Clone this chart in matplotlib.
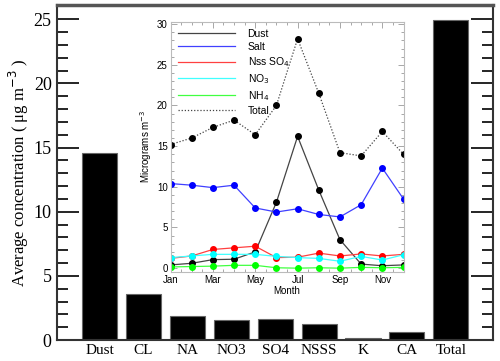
import matplotlib
matplotlib.use("Agg")
import matplotlib.pyplot as plt
from matplotlib.ticker import MultipleLocator
from matplotlib.lines import Line2D

categories = ["Dust", "CL", "NA", "NO3", "SO4", "NSSS", "K", "CA", "Total"]
avg_conc = [14.6, 3.6, 1.85, 1.55, 1.65, 1.25, 0.15, 0.6, 24.9]

months = list(range(1, 13))
month_labels = ["Jan", "Mar", "May", "Jul", "Sep", "Nov"]
dust = [0.4, 0.6, 1.05, 1.1, 2.0, 8.1, 16.2, 9.6, 3.5, 0.5, 0.3, 0.4]
salt = [10.4, 10.2, 9.9, 10.2, 7.4, 6.9, 7.3, 6.6, 6.3, 7.8, 12.3, 8.5]
nss_so4 = [1.2, 1.5, 2.3, 2.5, 2.7, 1.3, 1.35, 1.85, 1.5, 1.75, 1.5, 1.7]
no3 = [1.3, 1.5, 1.7, 1.7, 1.7, 1.45, 1.3, 1.2, 0.85, 1.45, 1.0, 1.65]
nh4 = [0.15, 0.2, 0.25, 0.35, 0.35, 0.05, 0.0, 0.05, 0.0, 0.1, 0.05, 0.1]
total = [15.2, 16.0, 17.3, 18.2, 16.4, 20.0, 28.2, 21.5, 14.2, 13.8, 16.8, 14.0]

fig = plt.figure(figsize=(5, 3.61), dpi=100)
serif = "Liberation Serif"
sans = "Liberation Sans"

ax = fig.add_axes([0.113, 0.058, 0.873, 0.928])
x = list(range(len(categories)))
ax.bar(x, avg_conc, width=0.8, color="black", edgecolor="#666666", linewidth=0.8)
ax.set_xlim(-0.98, 8.96)
ax.set_ylim(0, 26.1)
ax.yaxis.set_major_locator(MultipleLocator(5))
ax.yaxis.set_minor_locator(MultipleLocator(1))
ax.tick_params(axis="y", which="major", direction="in", length=16, width=1.2,
               left=True, right=True, labelsize=13, color="black")
ax.tick_params(axis="y", which="minor", direction="in", length=8, width=1.2,
               left=True, right=True, color="black")
ax.tick_params(axis="x", length=0, labelsize=11, pad=3)
ax.set_xticks(x)
ax.set_xticklabels(categories, fontfamily=serif)
for lab in ax.get_yticklabels():
    lab.set_fontfamily(serif)
ax.set_ylabel("Average concentration ( μg m$^{-3}$ )", fontfamily=serif, fontsize=12, labelpad=2)
for s in ax.spines.values():
    s.set_linewidth(1.5)
    s.set_color("#333333")
ax.spines["top"].set_linewidth(2.5)
ax.spines["top"].set_color("#555555")

ins = fig.add_axes([0.341, 0.247, 0.466, 0.693])
ms = 4
series = [
    ("Dust", dust, "#444444", "black", "-"),
    ("Salt", salt, "#4040ff", "blue", "-"),
    ("Nss SO$_4$", nss_so4, "#ff4040", "red", "-"),
    ("NO$_3$", no3, "#40ffff", "cyan", "-"),
    ("NH$_4$", nh4, "#40ff40", "#00ff00", "-"),
    ("Total", total, "#444444", "black", (0, (1, 1.5))),
]
handles = []
for label, vals, lc, mc, ls in series:
    ins.plot(months, vals, color=lc, lw=0.9, ls=ls, marker="o", ms=ms, mfc=mc, mec=mc)
    handles.append(Line2D([], [], color=lc, lw=0.9, ls=ls, label=label))
ins.set_xlim(1, 12)
ins.set_ylim(-0.45, 30.3)
ins.set_xticks([1, 3, 5, 7, 9, 11])
ins.set_xticklabels(month_labels, fontfamily=sans, fontsize=7)
ins.xaxis.set_minor_locator(MultipleLocator(0.5))
ins.yaxis.set_major_locator(MultipleLocator(5))
ins.yaxis.set_minor_locator(MultipleLocator(1))
ins.tick_params(which="both", direction="in", top=True, right=True, color="#999999", width=0.6, labelsize=7, pad=2)
ins.tick_params(which="major", length=4)
ins.tick_params(which="minor", length=2)
for lab in ins.get_yticklabels():
    lab.set_fontfamily(sans)
ins.set_xlabel("Month", fontfamily=sans, fontsize=7, labelpad=1)
ins.set_ylabel("Micrograms m$^{-3}$", fontfamily=sans, fontsize=7, labelpad=2)
for s in ins.spines.values():
    s.set_color("#bbbbbb")
    s.set_linewidth(0.8)
ins.legend(handles=handles, loc="upper left", frameon=False, handlelength=5.5,
           labelspacing=0.3, borderaxespad=0.3, handletextpad=1.2,
           prop={"family": sans, "size": 7.5})

fig.savefig("out.png", dpi=100)
